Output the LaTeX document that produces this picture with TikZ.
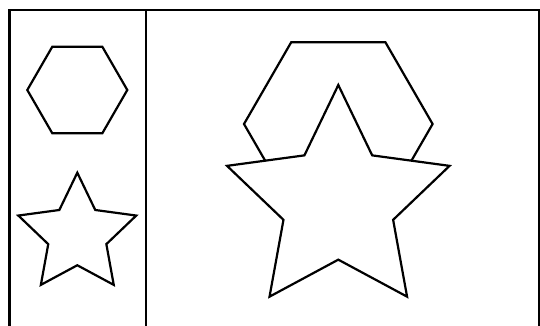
\documentclass[tikz,border=0pt]{standalone}
\usepackage{tikz}
\usetikzlibrary{shapes.geometric}

\begin{document}
\begin{tikzpicture}[
  x=1bp,y=-1bp,
  frame/.style={line width=2.2bp,draw=black},
  hexa/.style={regular polygon,regular polygon sides=6,draw=black,fill=white,line width=2.2bp,inner sep=0pt,outer sep=0pt},
  fivestar/.style={star,star points=5,star point ratio=2.03,draw=black,fill=white,line width=2.2bp,inner sep=0pt,outer sep=0pt}
]
  \useasboundingbox (0,0) rectangle (540,325);
  % frame, open at the bottom
  \draw[frame] (9.5,326) -- (9.5,9.8) -- (538.8,9.8) -- (538.8,326);
  \draw[frame] (146,9.8) -- (146,326);
  % small shapes on the left
  \node[hexa,minimum size=100bp] (smallhex) at (77.3,90) {};
  \node[fivestar,minimum size=124bp] (smallstar) at (77.3,234.7) {};
  % large shapes, star in front of the hexagon
  \node[hexa,minimum size=188.6bp] (bighex) at (338.3,124) {};
  \node[fivestar,minimum size=234bp] (bigstar) at (338.3,202) {};
\end{tikzpicture}
\end{document}
